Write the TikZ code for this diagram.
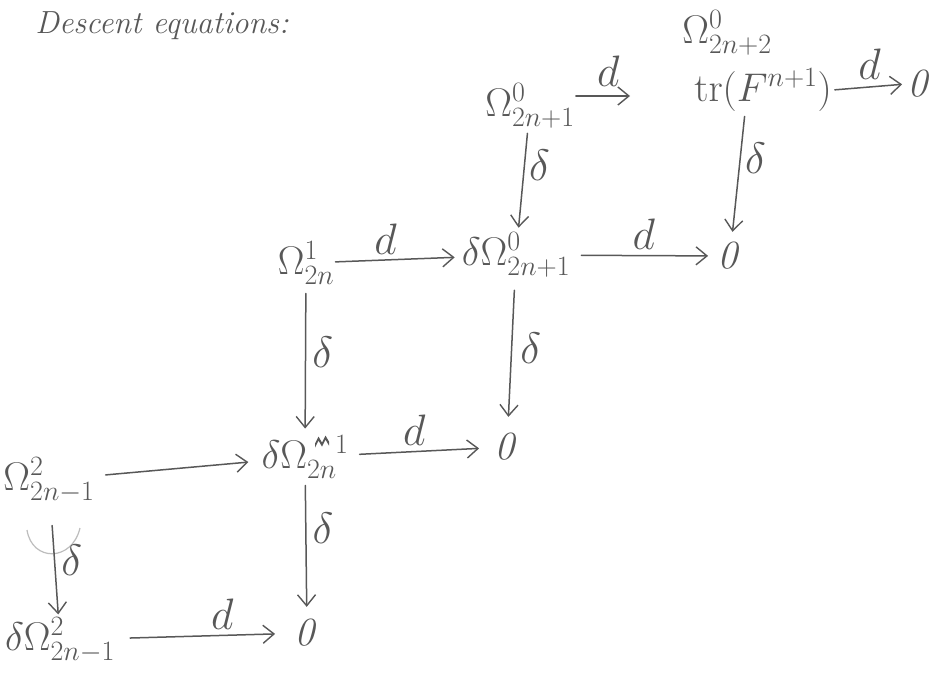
\RequirePackage{fix-cm}
\documentclass[tikz,border=0pt]{standalone}
\usepackage{amsmath}
\usetikzlibrary{arrows.meta,calc}
\definecolor{pencil}{HTML}{585858}
\definecolor{faint}{HTML}{BDBDBD}

\begin{document}
\begin{tikzpicture}[x=1pt,y=-1pt,
  every node/.style={text=pencil, inner sep=1pt},
  term/.style={font=\fontsize{40}{48}\selectfont},
  lbl/.style={font=\fontsize{44}{50}\selectfont, inner sep=0pt},
  map/.style={draw=pencil, line width=1.5pt, line cap=round,
    -{Straight Barb[length=11pt,width=18pt,line width=1.4pt]}},
]
\useasboundingbox[fill=white] (0,0) rectangle (934,675);

% heading
\node[font=\fontsize{32}{38}\selectfont\itshape] (title) at (162,26) {Descent equations:};

% top row
\node[term] (A)  at (530,106) {$\Omega^{0}_{2n+1}$};
\node[term] (B1) at (727,33)  {$\Omega^{0}_{2n+2}$};
\node[term] (B)  at (763,90)  {$\mathrm{tr}(F^{n+1})$};
\node[term] (Z1) at (920,84)  {$\mathit{0}$};

% second row
\node[term] (C)  at (306,263) {$\Omega^{1}_{2n}$};
\node[term] (D)  at (516,255) {$\delta\Omega^{0}_{2n+1}$};
\node[term] (Z2) at (730,256) {$\mathit{0}$};

% third row
\node[term] (E)  at (49,480)  {$\Omega^{2}_{2n-1}$};
\node[term] (F)  at (305,457) {$\delta\Omega^{\,\,\,\,\,\,1}_{2n}$};
\node[term] (Z3) at (507,447) {$\mathit{0}$};

% bottom row
\node[term] (G)  at (60,640)  {$\delta\Omega^{2}_{2n-1}$};
\node[term] (Z4) at (307,633) {$\mathit{0}$};

% crossed-out mark in the superscript of F
\fill[pencil] ($(F.north)+(10,9)$) -- ++(3.5,-7) -- ++(3.5,6) -- ++(3.5,-7) -- ++(3.5,6)
  -- ++(0,4) -- ++(-3.5,-6) -- ++(-3.5,7) -- ++(-3.5,-6) -- ++(-3.5,7) -- cycle;

% horizontal maps d
\coordinate (Aend) at (630,96);
\draw[map] (A.east |- Aend) -- node[lbl, above=9pt, pos=0.6] {$d$} (Aend);
\draw[map, shorten <=2pt, shorten >=4pt] (B.east) -- node[lbl, above=7pt] {$d$} (Z1.west);
\draw[map, shorten >=6pt] (C) -- node[lbl, above=5pt, pos=0.4] {$d$} (D);
\draw[map, shorten <=10pt, shorten >=8pt] (D) -- node[lbl, above=5pt, pos=0.5] {$d$} (Z2);
\draw[map, shorten <=10pt, shorten >=12pt] (E) -- (F);
\draw[map, shorten <=10pt, shorten >=14pt] (F) -- node[lbl, above=5pt, pos=0.45] {$d$} (Z3);
\draw[map, shorten <=14pt, shorten >=18pt] (G) -- node[lbl, above=5pt, pos=0.6] {$d$} (Z4);

% vertical maps delta
\coordinate (Btop) at (745,0);
\draw[map, shorten <=4pt, shorten >=4pt] (A) -- node[lbl, right=4pt, pos=0.35] {$\delta$} (D);
\draw[map, shorten <=4pt, shorten >=10pt] (B.south -| Btop) -- node[lbl, right=4pt, pos=0.35] {$\delta$} (Z2);
\draw[map, shorten <=8pt, shorten >=6pt] (C) -- node[lbl, right=6pt, pos=0.45] {$\delta$} (F);
\draw[map, shorten <=12pt, shorten >=16pt] (D) -- node[lbl, right=8pt, pos=0.45] {$\delta$} (Z3);
\draw[map, shorten <=6pt, shorten >=12pt] (F) -- node[lbl, right=6pt, pos=0.35] {$\delta$} (Z4);
\draw[faint, line width=1.2pt] (27,530) .. controls (32,562) and (72,562) .. (80,528);
\draw[map, shorten <=22pt, shorten >=2pt] (E) -- node[lbl, right=6pt, pos=0.5] {$\delta$} (G);
\end{tikzpicture}
\end{document}
